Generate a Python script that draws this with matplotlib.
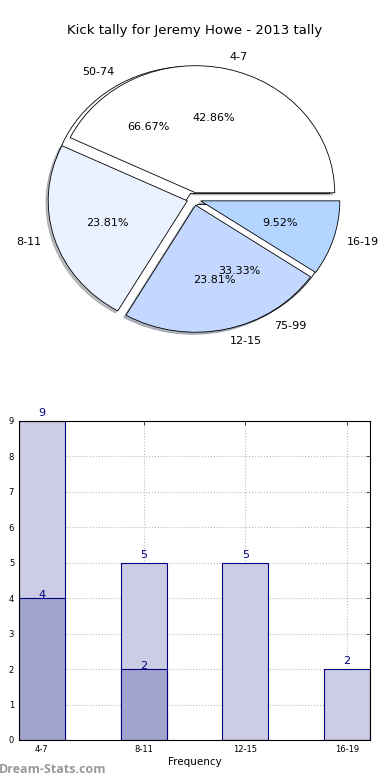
import matplotlib
matplotlib.use('Agg')
import matplotlib.pyplot as plt

# kicks per range (top pie + light bars)
ranges = ['4-7', '8-11', '12-15', '16-19']
kicks = [9, 5, 5, 2]
# second series (dark bars)
kicks_inner = [4, 2, 0, 0]
# second pie
far_ranges = ['50-74', '75-99']
far_kicks = [4, 2]

pie_colors = ['#ffffff', '#eaf1ff', '#c4d8ff', '#b3d5ff']
light = '#ccccE4'
dark = '#a3a3cf'
navy = '#000080'

fig = plt.figure(figsize=(3.9, 7.8), dpi=100)
fig.text(0.5, 0.9615, 'Kick tally for Jeremy Howe - 2013 tally', ha='center', va='center', fontsize=9.5)

# ---- pie ----
ax1 = fig.add_axes([0.0692, 0.5494, 0.8564, 0.391])
ax1.pie(far_kicks, labels=far_ranges, autopct='%.2f%%', explode=[0.05] * 2,
        colors=['white', 'white'], wedgeprops=dict(edgecolor='black', linewidth=0.6),
        textprops=dict(fontsize=8))
ax1.pie(kicks, labels=ranges, autopct='%.2f%%', explode=[0.05] * 4,
        shadow=dict(ox=-0.012, oy=-0.012, shade=0.5),
        colors=pie_colors, wedgeprops=dict(edgecolor='black', linewidth=0.6),
        textprops=dict(fontsize=8))
ax1.set_aspect('auto')
ax1.set_xlim(-1.2, 1.2)
ax1.set_ylim(-1.2, 1.2)
ax1.axis('off')

# ---- bars ----
ax2 = fig.add_axes([0.0487, 0.0513, 0.9, 0.409])
x = range(len(ranges))
w = 0.45
ax2.bar(x, kicks, width=w, align='edge', color=light, edgecolor=navy, linewidth=0.8)
ax2.bar(x, kicks_inner, width=w, align='edge', color=dark, edgecolor=navy, linewidth=0.8)
for i, v in enumerate(kicks):
    ax2.text(i + w / 2, v + 0.08, str(v), ha='center', va='bottom', color=navy, fontsize=8)
for i, v in enumerate(kicks_inner):
    if v > 0:
        ax2.text(i + w / 2, v - 0.05, str(v), ha='center', va='bottom', color=navy, fontsize=8)

ax2.set_xlim(0, len(ranges) - 1 + w)
ax2.set_ylim(0, 9)
ax2.set_xticks([i + w / 2 for i in x])
ax2.set_xticklabels(ranges)
ax2.set_yticks(range(10))
ax2.tick_params(direction='in', top=True, right=True, labelsize=6, length=3, width=0.5)
ax2.grid(True, linestyle=':', color='#bbbbbb', linewidth=0.8)
ax2.set_axisbelow(True)
ax2.set_xlabel('Frequency', fontsize=7.5, labelpad=2)

fig.text(-0.003, 0.013, 'Dream-Stats.com', fontsize=9, color='#999999',
         fontweight='bold', family=['Open Sans', 'DejaVu Sans'], ha='left', va='center')

plt.savefig('out.png', dpi=100)
